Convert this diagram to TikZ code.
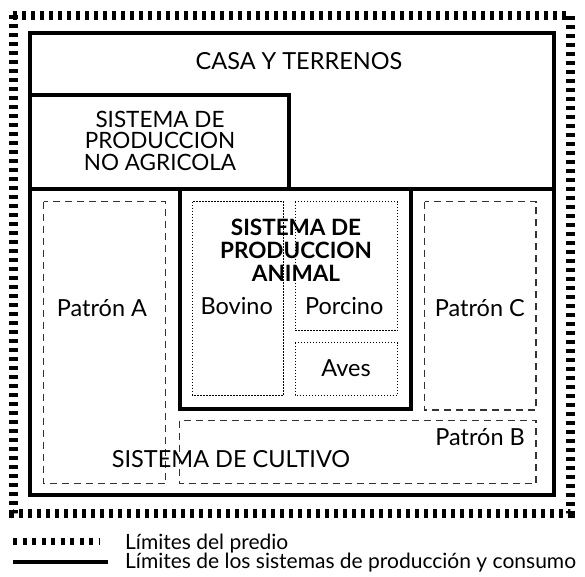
\documentclass[tikz,border=0pt]{standalone}
\usepackage{fontspec}
\setmainfont{Lato}
\begin{document}
\begin{tikzpicture}[x=1pt,y=-1pt,
  predio/.style={line width=9pt, dash pattern=on 4pt off 5pt},
  sistema/.style={line width=4pt, line join=miter},
  patron/.style={line width=1.1pt, dash pattern=on 7pt off 5pt, draw=black!80},
  subbox/.style={line width=0.9pt, dash pattern=on 1.5pt off 1.5pt},
  lbl/.style={font=\fontsize{23.5}{20.5}\selectfont, inner sep=0pt, align=center},
  mlbl/.style={font=\fontsize{22.5}{21.5}\selectfont, inner sep=0pt, align=center},
  blbl/.style={font=\fontsize{22.5}{22.7}\selectfont\bfseries, inner sep=0pt, align=center},
  leg/.style={font=\fontsize{21}{19.5}\selectfont, inner sep=0pt, anchor=base west}]
\useasboundingbox (0,0) rectangle (585,576);
% property limit
\draw[predio] (13,15) rectangle (570,513);
% systems
\draw[sistema] (29.5,33) rectangle (553.5,495);
\draw[sistema] (29.5,95) -- (288.5,95) -- (288.5,189);
\draw[sistema] (29.5,189) -- (553.5,189);
\draw[sistema] (180,189) rectangle (410.5,409);
% patterns
\draw[patron] (43.5,201.5) rectangle (165.5,483.5);
\draw[patron] (424.5,201.5) rectangle (536,410);
\draw[patron] (179.5,420.5) rectangle (536,483.5);
% animal subsystems
\draw[subbox] (192.5,201.5) rectangle (283.5,395);
\draw[subbox] (295,201.5) rectangle (397.5,330.5);
\draw[subbox] (295,342.5) rectangle (397.5,395);
% labels
\node[lbl, anchor=base] (casa) at (299,69.5) {CASA Y TERRENOS};
\node[mlbl] (noagr) at (160,140.5) {SISTEMA DE\\PRODUCCION\\NO AGRICOLA};
\node[blbl] (animal) at (296,250.3) {SISTEMA DE\\PRODUCCION\\ANIMAL};
\node[lbl, anchor=base] (pa) at (102,316) {Patrón A};
\node[lbl, anchor=base] (bov) at (236.7,314.5) {Bovino};
\node[lbl, anchor=base] (por) at (344.2,314.5) {Porcino};
\node[lbl, anchor=base] (ave) at (346,376.7) {Aves};
\node[lbl, anchor=base east] (pc) at (525,316) {Patrón C};
\node[lbl, anchor=base east] (pb) at (525,445) {Patrón B};
\node[lbl, anchor=base] (cult) at (231,467.7) {SISTEMA DE CULTIVO};
% legend
\coordinate (l1a) at (13,541);
\coordinate (l1b) at (100,541);
\coordinate (l2a) at (13,562);
\coordinate (l2b) at (108,562);
\draw[line width=7pt, dash pattern=on 4pt off 5.5pt] (l1a) -- (l1b);
\draw[line width=4pt] (l2a) -- (l2b);
\node[leg] (leg1) at (125,549) {Límites del predio};
\node[leg] (leg2) at (125,568) {Límites de los sistemas de producción y consumo};
\end{tikzpicture}
\end{document}
